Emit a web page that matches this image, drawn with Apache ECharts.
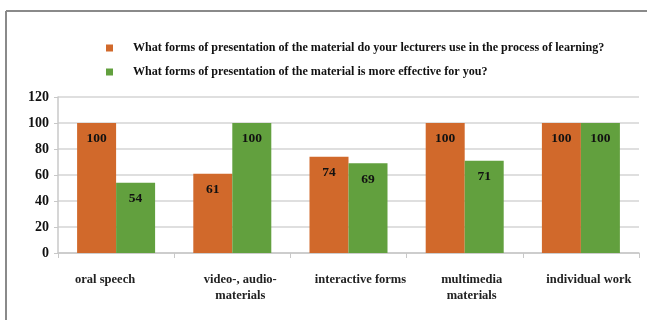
<!DOCTYPE html>
<html><head><meta charset="utf-8">
<script src="https://cdn.jsdelivr.net/npm/echarts@6/dist/echarts.min.js"></script>
<style>html,body{margin:0;padding:0;background:#fff}#c{width:647px;height:320px}</style>
</head><body><div id="c"></div>
<script>
const categories = ['oral speech', 'video-, audio-\nmaterials', 'interactive forms', 'multimedia\nmaterials', 'individual work'];
const seriesNames = ['What forms of presentation of the material do your lecturers use in the process of learning?', 'What forms of presentation of the material is more effective for you?'];
const lecturersUse = [100, 61, 74, 100, 100];
const moreEffective = [54, 100, 69, 71, 100];
const yTicks = {min: 0, max: 120, interval: 20};

const FONT = '"Liberation Serif", "Times New Roman", serif';
const labelPad = [[0, 22, 0, 0], [0, 0, 0, 16], [0, 0, 0, 24], [0, 0, 8, 14], [0, 0, 0, 16]];
const chart = echarts.init(document.getElementById('c'), null, {renderer: 'canvas'});
const dataLabel = {show: true, position: 'insideTop', distance: 9, fontFamily: FONT, fontWeight: 'bold', fontSize: 13.5, color: '#111'};
chart.setOption({
  animation: false,
  textStyle: {fontFamily: FONT},
  graphic: [
    {type: 'line', shape: {x1: 6, y1: 11, x2: 647, y2: 11}, style: {stroke: '#8a8a8a', lineWidth: 2}},
    {type: 'line', shape: {x1: 6, y1: 11, x2: 6, y2: 320}, style: {stroke: '#8a8a8a', lineWidth: 2}}
  ],
  legend: {
    orient: 'vertical', left: 101, top: 37, itemWidth: 7, itemHeight: 7, itemGap: 12,
    icon: 'rect',
    textStyle: {fontFamily: FONT, fontWeight: 'bold', fontSize: 12.1, color: '#111', padding: [0, 0, 0, 15]}
  },
  grid: {left: 58, right: 8, top: 97, bottom: 67},
  xAxis: {
    type: 'category',
    data: categories.map((c, i) => ({value: c, textStyle: {padding: labelPad[i]}})),
    axisLine: {lineStyle: {color: '#c8c8c8', width: 1.5}},
    axisTick: {show: true, length: 5, lineStyle: {color: '#c8c8c8'}},
    axisLabel: {margin: 19, fontFamily: FONT, fontWeight: 'bold', fontSize: 12.5, color: '#222', lineHeight: 16, interval: 0}
  },
  yAxis: {
    type: 'value', min: yTicks.min, max: yTicks.max, interval: yTicks.interval,
    axisLine: {show: true, lineStyle: {color: '#c8c8c8', width: 1.5}},
    axisTick: {show: true, length: 4, lineStyle: {color: '#c8c8c8'}},
    splitLine: {lineStyle: {color: '#d4d4d4', width: 1.5}},
    axisLabel: {margin: 9, fontFamily: FONT, fontWeight: 'bold', fontSize: 14, color: '#111'}
  },
  series: [
    {name: seriesNames[0], type: 'bar', data: lecturersUse, barWidth: 39, barGap: '0%', itemStyle: {color: '#D1692B'}, label: dataLabel},
    {name: seriesNames[1], type: 'bar', data: moreEffective, barWidth: 39, barGap: '0%', itemStyle: {color: '#62A03E'}, label: dataLabel}
  ]
});
</script></body></html>
